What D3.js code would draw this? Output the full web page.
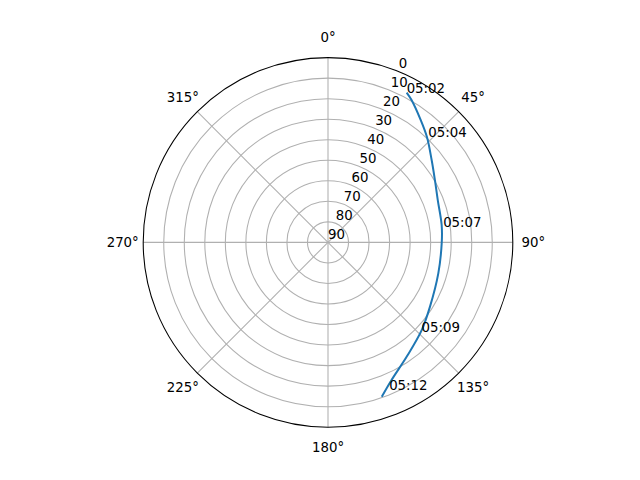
<!DOCTYPE html>
<html>
<head>
<meta charset="utf-8">
<script src="https://cdn.jsdelivr.net/npm/d3@7"></script>
<style>
  body { margin: 0; background: #fff; }
  svg { display: block; font-family: "DejaVu Sans", sans-serif; }
</style>
</head>
<body>
<svg id="chart" width="640" height="480"></svg>
<script>
// satellite pass track: azimuth (deg, clockwise from north) and elevation (deg)
var passAzimuth   = [27.7, 30.4, 37.1, 43.2, 51.5, 59.7, 68.9, 81.3, 90.0, 105.7, 122.2, 133.1, 145.5, 155.2, 160.8];
var passElevation = [7.6, 9.6, 15.2, 19.6, 25.5, 29.7, 32.7, 34.0, 34.6, 34.2, 31.3, 27.5, 22.4, 16.2, 10.4];

// time annotations along the pass
var labelTimes     = ["05:02", "05:04", "05:07", "05:09", "05:12"];
var labelAzimuth   = [27.7, 43.6, 82.2, 133.7, 157.5];
var labelElevation = [7.6, 19.2, 33.4, 27.0, 12.2];

// axis ticks
var thetaTicks = [0, 45, 90, 135, 180, 225, 270, 315];
var elevationTicks = [0, 10, 20, 30, 40, 50, 60, 70, 80, 90];

var cx = 328, cy = 242.4, R = 184.8;
var rLabelAngle = 22.5;

var svg = d3.select("#chart");
var g = svg.append("g").attr("transform", "translate(" + cx + "," + cy + ")");

var scaleR = d3.scaleLinear().domain([90, 0]).range([0, R]);
var scaleA = d3.scaleLinear().domain([0, 360]).range([0, 2 * Math.PI]);

function px(az, el) { return scaleR(el) * Math.sin(scaleA(az)); }
function py(az, el) { return -scaleR(el) * Math.cos(scaleA(az)); }

// circular grid
g.selectAll(".ring")
    .data(elevationTicks.filter(function(d) { return d > 0 && d < 90; }))
    .enter().append("circle")
    .attr("class", "ring")
    .attr("r", function(d) { return scaleR(d); })
    .attr("fill", "none")
    .attr("stroke", "#b0b0b0")
    .attr("stroke-width", 1.07);

// spokes
g.selectAll(".spoke")
    .data(thetaTicks)
    .enter().append("line")
    .attr("class", "spoke")
    .attr("x1", 0).attr("y1", 0)
    .attr("x2", function(d) { return px(d, 0); })
    .attr("y2", function(d) { return py(d, 0); })
    .attr("stroke", "#b0b0b0")
    .attr("stroke-width", 1.07);

// outer spine
g.append("circle")
    .attr("r", scaleR(0))
    .attr("fill", "none")
    .attr("stroke", "#000")
    .attr("stroke-width", 1.07);

// theta labels
g.selectAll(".tlabel")
    .data(thetaTicks)
    .enter().append("text")
    .attr("class", "tlabel")
    .attr("x", function(d) { return (R + 20.5) * Math.sin(scaleA(d)); })
    .attr("y", function(d) { return -(R + 20.5) * Math.cos(scaleA(d)); })
    .attr("dy", "0.36em")
    .attr("text-anchor", "middle")
    .attr("font-size", "13.33px")
    .text(function(d) { return d + "°"; });

// radial labels
g.selectAll(".rlabel")
    .data(elevationTicks)
    .enter().append("text")
    .attr("class", "rlabel")
    .attr("x", function(d) { return px(rLabelAngle, d); })
    .attr("y", function(d) { return py(rLabelAngle, d); })
    .attr("dy", "-0.24em")
    .attr("font-size", "13.33px")
    .text(function(d) { return d; });

// pass track
var track = d3.lineRadial()
    .angle(function(d) { return scaleA(d[0]); })
    .radius(function(d) { return scaleR(d[1]); })
    .curve(d3.curveCatmullRom);

g.append("path")
    .datum(d3.zip(passAzimuth, passElevation))
    .attr("d", track)
    .attr("fill", "none")
    .attr("stroke", "#1f77b4")
    .attr("stroke-width", 2)
    .attr("stroke-linejoin", "round");

// time annotations
g.selectAll(".tann")
    .data(labelTimes)
    .enter().append("text")
    .attr("class", "tann")
    .attr("x", function(d, i) { return px(labelAzimuth[i], labelElevation[i]); })
    .attr("y", function(d, i) { return py(labelAzimuth[i], labelElevation[i]); })
    .attr("font-size", "13.33px")
    .text(function(d) { return d; });
</script>
</body>
</html>
